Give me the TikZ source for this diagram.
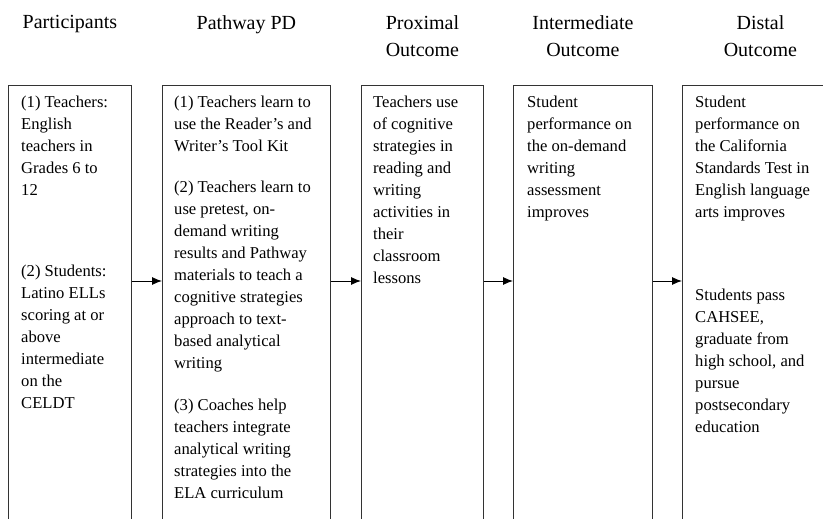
\documentclass[tikz,border=0pt]{standalone}
\usepackage{fontspec}
\setmainfont{Liberation Serif}
\usetikzlibrary{positioning,calc,arrows.meta}

\begin{document}
\begin{tikzpicture}[x=1pt,y=-1pt,
	box/.style={draw=black!80, line width=0.9pt, minimum height=480pt, inner sep=0, anchor=north west},
	body/.style={inner sep=0, anchor=north west, align=left, font=\fontsize{16.6}{22}\selectfont},
	head/.style={inner sep=0, anchor=north, align=center, font=\fontsize{20}{27}\selectfont},
	flow/.style={line width=0.9pt, -{Latex[length=10pt,width=8pt]}}]

	\useasboundingbox (0,0) rectangle (823,519);
	\clip (0,0) rectangle (823,519);

	\coordinate (top) at (0,15);
	\coordinate (row) at (0,281);

	\node[box, minimum width=123pt] (part) at (8,85) {};
	\node[box, minimum width=168pt] (pathway) at (162,85) {};
	\node[box, minimum width=122pt] (proximal) at (361,85) {};
	\node[box, minimum width=139pt] (intermediate) at (513,85) {};
	\node[box, minimum width=156pt] (distal) at (682,85) {};

	\node[head] (part-head) at (part.north |- top) {Participants};
	\node[head] (pathway-head) at (pathway.north |- top) {Pathway PD};
	\node[head] (proximal-head) at (proximal.north |- top) {Proximal\\Outcome};
	\node[head] (intermediate-head) at (intermediate.north |- top) {Intermediate\\Outcome};
	\node[head] (distal-head) at (distal.north |- top) {Distal\\Outcome};

	\node[body] (part-text) at ([shift={(13,11)}]part.north west)
		{(1) Teachers:\\English\\teachers in\\Grades 6 to\\12\\[59pt]
		(2) Students:\\Latino ELLs\\scoring at or\\above\\intermediate\\on the\\CELDT};

	\node[body] (pathway-text) at ([shift={(12,11)}]pathway.north west)
		{(1) Teachers learn to\\use the Reader's and\\Writer's Tool Kit\\[19pt]
		(2) Teachers learn to\\use pretest, on-\\demand writing\\results and Pathway\\materials to teach a\\cognitive strategies\\approach to text-\\based analytical\\writing\\[20pt]
		(3) Coaches help\\teachers integrate\\analytical writing\\strategies into the\\ELA curriculum};

	\node[body] (proximal-text) at ([shift={(12,11)}]proximal.north west)
		{Teachers use\\of cognitive\\strategies in\\reading and\\writing\\activities in\\their\\classroom\\lessons};

	\node[body] (intermediate-text) at ([shift={(14,11)}]intermediate.north west)
		{Student\\performance on\\the on-demand\\writing\\assessment\\improves};

	\node[body] (distal-text) at ([shift={(13,11)}]distal.north west)
		{Student\\performance on\\the California\\Standards Test in\\English language\\arts improves\\[61pt]
		Students pass\\CAHSEE,\\graduate from\\high school, and\\pursue\\postsecondary\\education};

	\draw[flow] (part.east |- row) -- (pathway.west |- row);
	\draw[flow] (pathway.east |- row) -- (proximal.west |- row);
	\draw[flow] (proximal.east |- row) -- (intermediate.west |- row);
	\draw[flow] (intermediate.east |- row) -- (distal.west |- row);

\end{tikzpicture}
\end{document}
